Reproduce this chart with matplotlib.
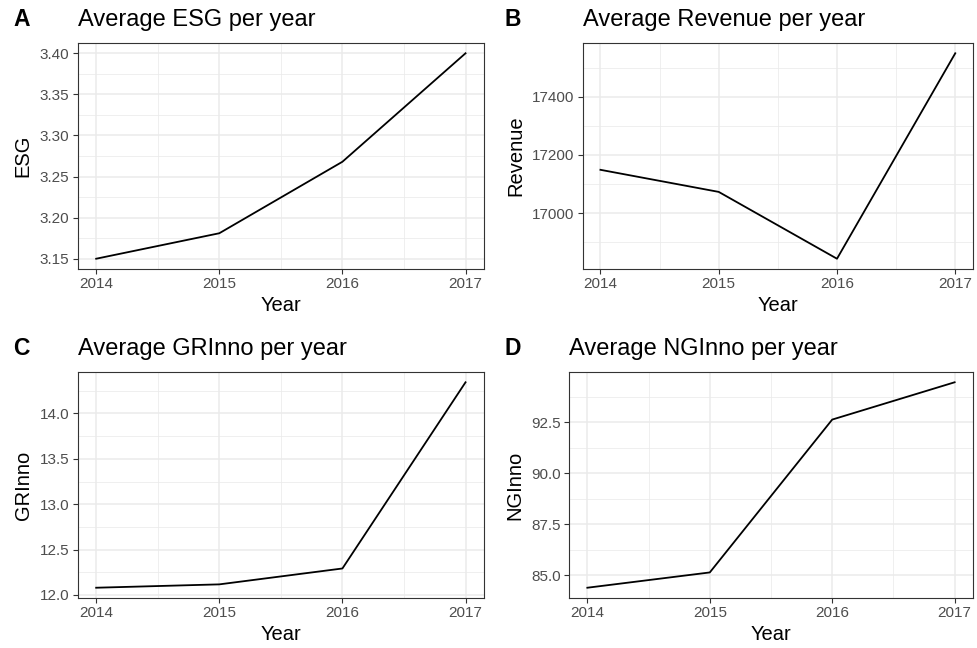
import numpy as np
import matplotlib
matplotlib.use('Agg')
import matplotlib.pyplot as plt
from matplotlib.ticker import FixedLocator, FormatStrFormatter

plt.rcParams.update({
    'font.family': ['Liberation Sans', 'DejaVu Sans'],
    'figure.dpi': 100,
    'savefig.dpi': 100,
})

# ===================== DATA =====================
years = [2014, 2015, 2016, 2017]
esg = [3.150, 3.181, 3.268, 3.400]
revenue = [17149, 17073, 16843, 17550]
grinno = [12.08, 12.117, 12.292, 14.343]
nginno = [84.38, 85.13, 92.63, 94.46]

panels = [
    ('A', 'ESG', esg, [3.15, 3.20, 3.25, 3.30, 3.35, 3.40], '%.2f'),
    ('B', 'Revenue', revenue, [17000, 17200, 17400], '%d'),
    ('C', 'GRInno', grinno, [12.0, 12.5, 13.0, 13.5, 14.0], '%.1f'),
    ('D', 'NGInno', nginno, [85.0, 87.5, 90.0, 92.5], '%.1f'),
]

# panel boxes in pixels: left, top, right, bottom
W, H = 978, 648
boxes = [
    (77.7, 43, 484, 269),
    (582.7, 43, 973, 269),
    (77.7, 372, 484, 598),
    (569, 372, 973, 598),
]

fig = plt.figure(figsize=(W / 100, H / 100))

for (tag, name, vals, yt, fmt), (l, t, r, b) in zip(panels, boxes):
    ax = fig.add_axes([l / W, 1 - b / H, (r - l) / W, (b - t) / H])
    ax.plot(years, vals, color='black', lw=1.3, zorder=3)

    # ggplot-style 5% expansion
    lo, hi = min(vals), max(vals)
    pad = (hi - lo) * 0.05
    ax.set_xlim(2014 - 0.15, 2017 + 0.15)

    step = yt[1] - yt[0]
    ax.set_xticks(years)
    ax.xaxis.set_minor_locator(FixedLocator([2014.5, 2015.5, 2016.5]))
    ax.set_yticks(yt)
    minors = np.arange(yt[0] - step / 2, yt[-1] + step, step)
    ax.yaxis.set_minor_locator(FixedLocator(minors))
    ax.yaxis.set_major_formatter(FormatStrFormatter(fmt))
    ax.set_ylim(lo - pad, hi + pad)

    ax.grid(which='major', color='#EBEBEB', lw=1.1, zorder=0)
    ax.grid(which='minor', color='#EBEBEB', lw=0.55, zorder=0)
    ax.set_axisbelow(True)
    ax.tick_params(which='major', length=3.6, width=0.8, color='#333333',
                   labelcolor='#4D4D4D', labelsize=11, pad=2.5)
    ax.tick_params(which='minor', length=0)
    for s in ax.spines.values():
        s.set_color('#333333')
        s.set_linewidth(0.8)

    ax.set_xlabel('Year', fontsize=14.5, labelpad=3)
    ax.set_ylabel(name, fontsize=14.5, labelpad=5)

    # panel title and tag
    ty = 1 - (t - 23) / H
    fig.text(l / W, ty, f'Average {name} per year',
             fontsize=17, ha='left', va='center')
    fig.text(13 / W if tag in 'AC' else 505 / W, ty, tag,
             fontsize=16.5, fontweight='bold', ha='left', va='center')

fig.savefig('out.png')
